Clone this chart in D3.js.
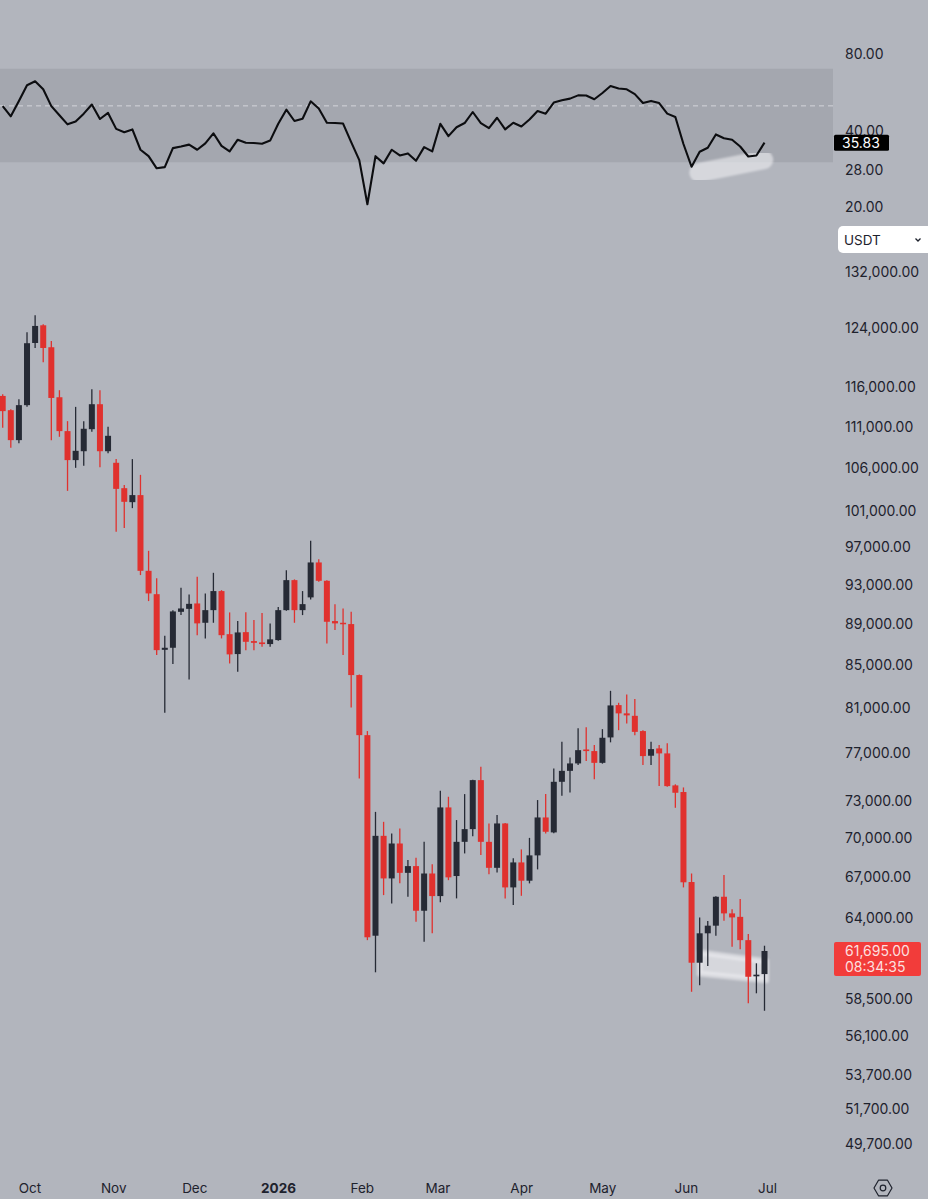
<!DOCTYPE html>
<html lang="en">
<head>
<meta charset="utf-8">
<title>BTC/USDT 3D</title>
<script src="https://cdn.jsdelivr.net/npm/d3@7"></script>
<style>
body { margin: 0; background: #b2b5bd; }
svg { display: block; font-family: Inter, "Noto Sans", sans-serif; }
</style>
</head>
<body>
<script>
var width = 928;
var height = 1199;

// 3-day candles, first one on 2025-09-22
var startDate = new Date(Date.UTC(2025, 8, 22));
var candleDays = 3;

var opens = [114890,113070,109340,113710,121910,124350,121330,114720,110450,106920,
107990,110690,113830,107990,106600,103610,102000,102810,94450,92010,
86450,86650,90210,90510,91060,89110,90380,92330,87980,86040,
88180,87300,87170,87010,87400,90380,93470,90380,91680,95340,
93400,89280,89110,88980,84040,78570,62760,70190,66920,69590,
67340,67850,64540,67290,65610,72460,67100,69720,70720,74710,
69720,67720,71170,66250,68130,66750,68670,71650,70460,74570,
75490,76120,77320,77180,76170,78370,81260,80510,80290,78930,
76780,77410,76980,74270,73720,66650,60890,62930,63470,65560,
64350,64100,62450,59970,60120];

var highs = [115110,113200,114470,123380,125750,124500,122190,115630,111690,113490,
111690,115760,115630,110990,107040,103970,107040,105170,96590,93680,
87820,90380,92670,91990,93820,92090,94240,92430,90150,89280,
90170,89380,90100,89050,90710,94520,93550,92330,97680,95670,
93470,90990,90550,90210,84100,78930,72100,71300,70380,70770,
68310,68490,69720,68000,73820,73330,71440,73550,74750,75830,
71170,71840,71200,68440,69130,70030,73060,73550,75690,77990,
76630,79170,79260,77700,79100,82570,81470,82240,81810,79000,
77990,77700,77850,74360,74100,67290,64060,63800,65600,67170,
64640,65390,62880,60850,62060];

var lows = [110860,108400,108970,113500,121230,119310,109340,109750,103300,106000,
106240,110360,106080,107750,98670,99100,101320,94000,91300,85940,
80560,85080,89880,83630,87880,87560,89110,87560,85140,84350,
86420,86420,86740,86740,87330,90310,89110,89880,91470,93300,
87070,88380,85940,81050,74850,62450,60240,65680,65070,66550,
65560,63750,62340,62930,65150,66790,65440,68820,70160,68690,
67240,67370,65440,64950,65630,66550,67600,70380,70400,73410,
73690,75980,76320,74790,76100,77940,79010,79610,78570,75980,
75980,74210,74150,72430,66250,58940,59380,60660,62760,63820,
61990,61810,58180,58840,57700];

var closes = [112950,109340,113710,121880,124260,121230,114630,110450,106920,108040,
110740,113830,107990,109870,103530,102040,102810,94450,92090,86420,
86650,90250,90550,91020,89050,90380,92330,87880,86010,88150,
87230,87130,87010,87470,90380,93470,90380,90990,95340,93400,
89210,89050,88980,84040,78570,62650,70190,66920,69590,67340,
67850,64540,67290,65610,72460,67000,69720,70720,74710,69720,
67720,71170,66250,68130,66750,68670,71650,70510,74570,75490,
76120,77260,77180,76170,78340,81230,80510,80330,78860,76750,
77350,76980,74210,73660,66630,60890,62930,63470,65560,64350,
64060,62450,59940,60080,61695];

var rsi = [49.9,45.5,52.3,60.3,62.5,58.1,49.9,45.9,42.3,43.4,
46.6,50.6,44.4,46.9,40.6,39.4,40.4,33.6,31.7,28.4,
28.7,34.1,34.6,35.2,33.6,35.6,39.0,34.8,33.1,36.8,
35.8,35.7,35.5,36.5,42.5,48.3,43.6,44.5,52.1,48.8,
42.9,42.8,42.6,36.0,30.6,20.5,31.7,29.7,33.6,31.9,
32.5,30.4,34.4,33.1,42.5,38.0,41.2,42.8,47.3,42.8,
40.9,44.9,40.4,42.9,41.5,44.2,47.7,46.6,51.5,52.6,
53.4,55.0,54.9,53.1,56.2,59.9,58.5,58.1,55.6,51.3,
52.3,51.3,46.6,45.2,35.4,28.8,33.0,34.2,38.6,37.3,
36.8,34.6,31.6,31.9,35.83];

var rsiTicks = [80, 40, 28, 20];
var rsiBand = [70, 30];
var rsiMid = 50;
var priceTicks = [132000,124000,116000,111000,106000,101000,97000,93000,89000,85000,
81000,77000,73000,70000,67000,64000,58500,56100,53700,51700,49700];
var lastPrice = 61695;
var lastRsi = 35.83;
var countdown = "08:34:35";
var quote = "USDT";

// hand-drawn highlights: [candle index, value]
var rsiMarker = [[85.9, 27.3], [93.9, 30.7]];
var priceMarker = [[86.0, 61600], [94.2, 61000], [94.2, 59700], [86.0, 60150]];

var upColor = "#262a35";
var downColor = "#e0312e";
var textColor = "#1e222d";

var candles = opens.map(function(o, i) {
    return {date: d3.utcDay.offset(startDate, i * candleDays), open: o, high: highs[i], low: lows[i], close: closes[i], rsi: rsi[i]};
});

var x = d3.scaleUtc()
    .domain([startDate, candles[candles.length - 1].date])
    .range([2.7, 764.5]);
var xi = function(i) { return x(d3.utcHour.offset(startDate, Math.round(i * candleDays * 24))); };

var yR = d3.scaleLog().domain([80, 20]).range([54, 207]);
var yP = d3.scaleLog().domain([132000, 49700]).range([272, 1144]);

var svg = d3.select("body").append("svg")
    .attr("width", width).attr("height", height);

svg.append("rect").attr("width", width).attr("height", height).attr("fill", "#b2b5bd");

var defs = svg.append("defs");
defs.append("clipPath").attr("id", "plot")
    .append("rect").attr("x", 0).attr("y", 0).attr("width", 833).attr("height", height);
defs.append("filter").attr("id", "soft").attr("x", "-20%").attr("y", "-50%").attr("width", "140%").attr("height", "200%")
    .append("feGaussianBlur").attr("stdDeviation", 1.2);

// ---- RSI pane
var rsiPane = svg.append("g").attr("clip-path", "url(#plot)");

rsiPane.append("rect")
    .attr("x", 0).attr("width", 833)
    .attr("y", yR(rsiBand[0])).attr("height", yR(rsiBand[1]) - yR(rsiBand[0]))
    .attr("fill", "#a4a7af");

rsiPane.append("line")
    .attr("x1", 0).attr("x2", 833).attr("y1", yR(rsiMid)).attr("y2", yR(rsiMid))
    .attr("stroke", "#d3d5da").attr("stroke-width", 1).attr("stroke-dasharray", "5,4");

rsiPane.append("line")
    .attr("x1", xi(rsiMarker[0][0])).attr("y1", yR(rsiMarker[0][1]))
    .attr("x2", xi(rsiMarker[1][0])).attr("y2", yR(rsiMarker[1][1]))
    .attr("stroke", "#eeeff2").attr("stroke-opacity", 0.6).attr("stroke-width", 19).attr("stroke-linecap", "round")
    .attr("filter", "url(#soft)");

rsiPane.append("path")
    .datum(candles)
    .attr("fill", "none").attr("stroke", "#0c0d10").attr("stroke-width", 2.1).attr("stroke-linejoin", "round")
    .attr("d", d3.line().x(function(d) { return x(d.date); }).y(function(d) { return yR(d.rsi); }));

svg.selectAll(".rsiTick").data(rsiTicks).enter().append("text")
    .attr("x", 845).attr("y", function(d) { return yR(d); }).attr("dy", "0.36em")
    .attr("font-size", 14).attr("fill", textColor)
    .text(function(d) { return d3.format(".2f")(d); });

svg.append("rect")
    .attr("x", 834).attr("y", yR(lastRsi) - 8).attr("width", 55).attr("height", 16).attr("rx", 1.5)
    .attr("fill", "#000");
svg.append("text")
    .attr("x", 842).attr("y", yR(lastRsi)).attr("dy", "0.36em")
    .attr("font-size", 14).attr("fill", "#fff")
    .text(d3.format(".2f")(lastRsi));

// currency selector
svg.append("rect")
    .attr("x", 838).attr("y", 226).attr("width", 100).attr("height", 27).attr("rx", 5)
    .attr("fill", "#fff");
svg.append("text")
    .attr("x", 844).attr("y", 240).attr("dy", "0.36em")
    .attr("font-size", 13.5).attr("fill", textColor)
    .text(quote);
svg.append("path")
    .attr("d", "M915.5,238.5 L918,241 L920.5,238.5")
    .attr("fill", "none").attr("stroke", textColor).attr("stroke-width", 1.3);

// ---- price pane
var pricePane = svg.append("g").attr("clip-path", "url(#plot)");
var bodyW = 6;

pricePane.append("path")
    .attr("d", "M" + priceMarker.map(function(p) { return [xi(p[0]), yP(p[1])]; }).join("L") + "Z")
    .attr("fill", "#eeeff2").attr("fill-opacity", 0.6)
    .attr("stroke", "#eeeff2").attr("stroke-opacity", 0.6).attr("stroke-width", 6).attr("stroke-linejoin", "round")
    .attr("filter", "url(#soft)");

var candle = pricePane.selectAll(".candle").data(candles).enter().append("g")
    .attr("fill", function(d) { return d.close >= d.open ? upColor : downColor; })
    .attr("stroke", function(d) { return d.close >= d.open ? upColor : downColor; });

candle.append("line")
    .attr("x1", function(d) { return x(d.date); }).attr("x2", function(d) { return x(d.date); })
    .attr("y1", function(d) { return yP(d.high); }).attr("y2", function(d) { return yP(d.low); })
    .attr("stroke-width", 1.3);

candle.append("rect")
    .attr("stroke", "none")
    .attr("x", function(d) { return x(d.date) - bodyW / 2; })
    .attr("width", bodyW)
    .attr("y", function(d) { return yP(Math.max(d.open, d.close)); })
    .attr("height", function(d) { return Math.max(1.5, yP(Math.min(d.open, d.close)) - yP(Math.max(d.open, d.close))); });

svg.selectAll(".priceTick").data(priceTicks).enter().append("text")
    .attr("x", 845).attr("y", function(d) { return yP(d); }).attr("dy", "0.36em")
    .attr("font-size", 14).attr("fill", textColor)
    .text(function(d) { return d3.format(",.2f")(d); });

svg.append("rect")
    .attr("x", 834).attr("y", yP(lastPrice) - 9).attr("width", 87).attr("height", 34).attr("rx", 2)
    .attr("fill", "#f23c3a");
svg.append("text")
    .attr("x", 845).attr("y", yP(lastPrice)).attr("dy", "0.36em")
    .attr("font-size", 14).attr("fill", "#fff").attr("fill-opacity", 0.85)
    .text(d3.format(",.2f")(lastPrice));
svg.append("text")
    .attr("x", 845).attr("y", yP(lastPrice) + 16).attr("dy", "0.36em")
    .attr("font-size", 14).attr("fill", "#fff").attr("fill-opacity", 0.85)
    .text(countdown);

// ---- time axis
var months = d3.utcMonth.range(new Date(Date.UTC(2025, 9, 1)), new Date(Date.UTC(2026, 6, 2)));
svg.selectAll(".month").data(months).enter().append("text")
    .attr("x", function(d) { return x(d) + 3; }).attr("y", 1188).attr("dy", "0.36em")
    .attr("text-anchor", "middle")
    .attr("font-size", 13.5).attr("fill", textColor)
    .attr("font-weight", function(d) { return d.getUTCMonth() === 0 ? "bold" : "normal"; })
    .text(function(d) { return d.getUTCMonth() === 0 ? d3.utcFormat("%Y")(d) : d3.utcFormat("%b")(d); });

// settings icon
var hex = d3.range(6).map(function(k) { var a = k * Math.PI / 3; return [883 + 9 * Math.cos(a), 1188 + 9 * Math.sin(a)]; });
svg.append("path")
    .attr("d", "M" + hex.join("L") + "Z")
    .attr("fill", "none").attr("stroke", textColor).attr("stroke-width", 1.2).attr("stroke-linejoin", "round");
svg.append("circle")
    .attr("cx", 883).attr("cy", 1188).attr("r", 2.8)
    .attr("fill", "none").attr("stroke", textColor).attr("stroke-width", 1.2);
</script>
</body>
</html>
